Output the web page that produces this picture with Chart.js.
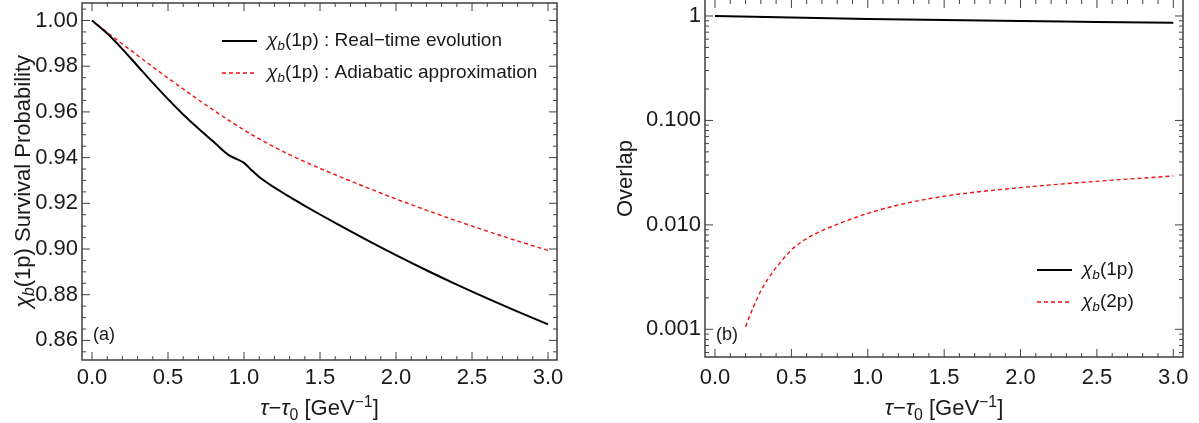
<!DOCTYPE html>
<html>
<head>
<meta charset="utf-8">
<script src="https://cdn.jsdelivr.net/npm/chart.js@4.4.1/dist/chart.umd.min.js"></script>
<style>
html, body { margin: 0; padding: 0; background: #fff; }
#wrap { position: relative; width: 1199px; height: 423px; }
.panel { position: absolute; top: 0; height: 423px; }
</style>
</head>
<body>
<div id="wrap">
	<div class="panel" style="left:0;width:600px"><canvas id="chart-a"></canvas></div>
	<div class="panel" style="left:600px;width:599px"><canvas id="chart-b"></canvas></div>
</div>
<script>
const FONT = '"Liberation Sans", Arial, sans-serif';
const INK = '#1a1a1a';
const FRAME = '#404040';

// panel (a) : chi_b(1p) survival probability
const tauA = [0, 0.1, 0.2, 0.3, 0.4, 0.5, 0.6, 0.7, 0.8, 0.9, 0.95, 1.0, 1.05, 1.1, 1.2, 1.3, 1.4, 1.5, 1.6, 1.8, 2.0, 2.2, 2.4, 2.6, 2.8, 3.0];
const realTime = [1.0, 0.9943, 0.9875, 0.9801, 0.9727, 0.9656, 0.9589, 0.9527, 0.9469, 0.9411, 0.9394, 0.9377, 0.9345, 0.9315, 0.9269, 0.9228, 0.9189, 0.9151, 0.9114, 0.9042, 0.8973, 0.8907, 0.8844, 0.8784, 0.8726, 0.8670];
const adiabatic = [1.0, 0.9948, 0.9897, 0.9847, 0.9797, 0.9748, 0.9700, 0.9653, 0.9607, 0.9563, 0.9542, 0.9521, 0.9501, 0.9482, 0.9446, 0.9413, 0.9382, 0.9353, 0.9325, 0.9271, 0.9219, 0.9170, 0.9123, 0.9078, 0.9035, 0.8994];
const yTicksA = [0.86, 0.88, 0.90, 0.92, 0.94, 0.96, 0.98, 1.00];

// panel (b) : overlap
const tauB1 = [0, 0.5, 1.0, 1.5, 2.0, 2.5, 3.0];
const overlap1p = [1.0, 0.965, 0.938, 0.915, 0.896, 0.878, 0.860];
const tauB2 = [0.2, 0.25, 0.3, 0.35, 0.4, 0.5, 0.6, 0.7, 0.8, 1.0, 1.2, 1.4, 1.6, 1.8, 2.0, 2.2, 2.4, 2.6, 2.8, 3.0];
const overlap2p = [0.00106, 0.00162, 0.00234, 0.00309, 0.00389, 0.00575, 0.00741, 0.00881, 0.01012, 0.01288, 0.01549, 0.01778, 0.01972, 0.02128, 0.02275, 0.02415, 0.02547, 0.02679, 0.02805, 0.02938];
const yTicksB = [0.001, 0.01, 0.1, 1];
const yLabelsB = ['0.001', '0.010', '0.100', '1'];

const xTicks = [0, 0.5, 1.0, 1.5, 2.0, 2.5, 3.0];

function pts(xs, ys) {
	return xs.map((x, i) => ({ x: x, y: ys[i] }));
}

// draws text with italic / subscript / superscript pieces
function richText(ctx, parts, x, y, size, align) {
	const pieces = parts.map(p => {
		const kind = p[1] || 'n';
		const small = (kind === 'sub' || kind === 'isub' || kind === 'sup');
		const ital = (kind === 'i' || kind === 'isub');
		return {
			text: p[0],
			font: (ital ? 'italic ' : '') + (small ? size * 0.72 : size) + 'px ' + FONT,
			dy: (kind === 'sub' || kind === 'isub') ? size * 0.22 : (kind === 'sup' ? -size * 0.38 : 0)
		};
	});
	let total = 0;
	pieces.forEach(s => { ctx.font = s.font; s.w = ctx.measureText(s.text).width; total += s.w; });
	let cx = (align === 'center') ? x - total / 2 : x;
	ctx.textAlign = 'left';
	ctx.textBaseline = 'alphabetic';
	pieces.forEach(s => { ctx.font = s.font; ctx.fillText(s.text, cx, y + s.dy); cx += s.w; });
}

function vertText(ctx, parts, x, y, size) {
	ctx.save();
	ctx.translate(x, y);
	ctx.rotate(-Math.PI / 2);
	richText(ctx, parts, 0, 0, size, 'center');
	ctx.restore();
}

const xTitle = [['τ', 'i'], ['−'], ['τ', 'i'], ['0', 'sub'], [' [GeV'], ['−1', 'sup'], [']']];

function line(ctx, x1, y1, x2, y2) {
	ctx.beginPath();
	ctx.moveTo(x1, y1);
	ctx.lineTo(x2, y2);
	ctx.stroke();
}

// frame, inward ticks on all four sides, legend, tags and titles
function makeDecor(cfg) {
	return {
		id: 'decor',
		afterDraw(chart) {
			const ctx = chart.ctx;
			const a = chart.chartArea;
			const xs = chart.scales.x;
			const ys = chart.scales.y;
			ctx.save();
			ctx.strokeStyle = FRAME;
			ctx.lineWidth = 1.5;
			ctx.beginPath();
			if (cfg.noTop) {
				ctx.moveTo(a.left, a.top);
				ctx.lineTo(a.left, a.bottom);
				ctx.lineTo(a.right, a.bottom);
				ctx.lineTo(a.right, a.top);
			} else {
				ctx.rect(a.left, a.top, a.right - a.left, a.bottom - a.top);
			}
			ctx.stroke();

			ctx.lineWidth = 1;
			for (let k = 0; k <= 30; k++) {
				const px = xs.getPixelForValue(k / 10);
				const len = (k % 5 === 0) ? 8 : 4;
				line(ctx, px, a.bottom, px, a.bottom - len);
				line(ctx, px, a.top, px, a.top + len);
			}
			cfg.yMajor.forEach(v => {
				const py = ys.getPixelForValue(v);
				line(ctx, a.left, py, a.left + 8, py);
				line(ctx, a.right, py, a.right - 8, py);
			});
			cfg.yMinor.forEach(v => {
				const py = ys.getPixelForValue(v);
				if (py < a.top || py > a.bottom) return;
				line(ctx, a.left, py, a.left + 4, py);
				line(ctx, a.right, py, a.right - 4, py);
			});

			// legend
			ctx.fillStyle = INK;
			cfg.legend.forEach(item => {
				ctx.strokeStyle = item.color;
				ctx.lineWidth = item.width;
				ctx.setLineDash(item.dash || []);
				line(ctx, cfg.legendX, item.y, cfg.legendX + 35, item.y);
				ctx.setLineDash([]);
				richText(ctx, item.text, cfg.legendX + 45, item.y + 5, 19, 'left');
			});

			// panel tag
			ctx.font = '18px ' + FONT;
			ctx.textAlign = 'left';
			ctx.textBaseline = 'alphabetic';
			ctx.fillText(cfg.tag, cfg.tagX, 340);

			// axis titles
			richText(ctx, xTitle, (a.left + a.right) / 2, 415, 22, 'center');
			vertText(ctx, cfg.yTitle, cfg.yTitleX, (a.top + a.bottom) / 2, 22);
			ctx.restore();
		}
	};
}

function xScale(min, max, height, pad) {
	return {
		type: 'linear',
		min: min,
		max: max,
		grid: { display: false, drawTicks: false },
		border: { display: false },
		afterBuildTicks: scale => { scale.ticks = xTicks.map(v => ({ value: v })); },
		afterFit: scale => { scale.height = height; scale.paddingLeft = 0; scale.paddingRight = 0; },
		ticks: { color: INK, padding: pad, maxRotation: 0, autoSkip: false, font: { size: 22 }, callback: v => v.toFixed(1) }
	};
}

Chart.defaults.font.family = FONT;
Chart.defaults.color = INK;

const common = {
	responsive: true,
	maintainAspectRatio: false,
	animation: false,
	events: [],
	plugins: { legend: { display: false }, tooltip: { enabled: false } }
};

const lineStyle = { pointRadius: 0, fill: false, cubicInterpolationMode: 'monotone' };

// minor tick positions
const minorA = [];
for (let k = 171; k <= 201; k++) {
	if (k % 4 !== 0) minorA.push(k * 0.005);
}
const minorB = [];
for (let e = -4; e <= 0; e++) {
	for (let m = 2; m <= 9; m++) minorB.push(m * Math.pow(10, e));
}

new Chart(document.getElementById('chart-a'), {
	type: 'line',
	data: {
		datasets: [
			{ ...lineStyle, label: 'Real-time evolution', data: pts(tauA, realTime), borderColor: '#000', borderWidth: 2 },
			{ ...lineStyle, label: 'Adiabatic approximation', data: pts(tauA, adiabatic), borderColor: '#f01010', borderWidth: 1.4, borderDash: [4, 3] }
		]
	},
	options: {
		...common,
		layout: { padding: { top: 3, right: 43, left: 0, bottom: 0 } },
		scales: {
			x: xScale(-0.0658, 3.059, 63, 5),
			y: {
				type: 'linear',
				min: 0.85142,
				max: 1.00766,
				grid: { display: false, drawTicks: false },
				border: { display: false },
				afterBuildTicks: scale => { scale.ticks = yTicksA.map(v => ({ value: v })); },
				afterFit: scale => { scale.width = 82; scale.paddingTop = 0; scale.paddingBottom = 0; },
				ticks: { color: INK, padding: 4, font: { size: 22 }, callback: v => v.toFixed(2) }
			}
		}
	},
	plugins: [makeDecor({
		yMajor: yTicksA,
		yMinor: minorA,
		legendX: 222,
		legend: [
			{ y: 41, color: '#000', width: 2, text: [['χ', 'i'], ['b', 'isub'], ['(1p) : Real−time evolution']] },
			{ y: 73, color: '#f01010', width: 1.4, dash: [4, 3], text: [['χ', 'i'], ['b', 'isub'], ['(1p) : Adiabatic approximation']] }
		],
		tag: '(a)',
		tagX: 93,
		yTitle: [['χ', 'i'], ['b', 'isub'], ['(1p) Survival Probability']],
		yTitleX: 29.5
	})]
});

new Chart(document.getElementById('chart-b'), {
	type: 'line',
	data: {
		datasets: [
			{ ...lineStyle, label: 'chi_b(1p)', data: pts(tauB1, overlap1p), borderColor: '#000', borderWidth: 2 },
			{ ...lineStyle, label: 'chi_b(2p)', data: pts(tauB2, overlap2p), borderColor: '#f01010', borderWidth: 1.4, borderDash: [4, 3] }
		]
	},
	options: {
		...common,
		layout: { padding: { top: 0, right: 16, left: 0, bottom: 0 } },
		scales: {
			x: xScale(-0.0655, 3.0634, 66, 8),
			y: {
				type: 'logarithmic',
				min: 0.000543,
				max: 1.4226,
				grid: { display: false, drawTicks: false },
				border: { display: false },
				afterBuildTicks: scale => { scale.ticks = yTicksB.map(v => ({ value: v })); },
				afterFit: scale => { scale.width = 105; scale.paddingTop = 0; scale.paddingBottom = 0; },
				ticks: { color: INK, padding: 4, font: { size: 22 }, callback: (v, i) => yLabelsB[i] }
			}
		}
	},
	plugins: [makeDecor({
		noTop: true,
		yMajor: yTicksB,
		yMinor: minorB,
		legendX: 437,
		legend: [
			{ y: 270, color: '#000', width: 2, text: [['χ', 'i'], ['b', 'isub'], ['(1p)']] },
			{ y: 302, color: '#f01010', width: 1.4, dash: [4, 3], text: [['χ', 'i'], ['b', 'isub'], ['(2p)']] }
		],
		tag: '(b)',
		tagX: 116,
		yTitle: [['Overlap']],
		yTitleX: 32
	})]
});
</script>
</body>
</html>
